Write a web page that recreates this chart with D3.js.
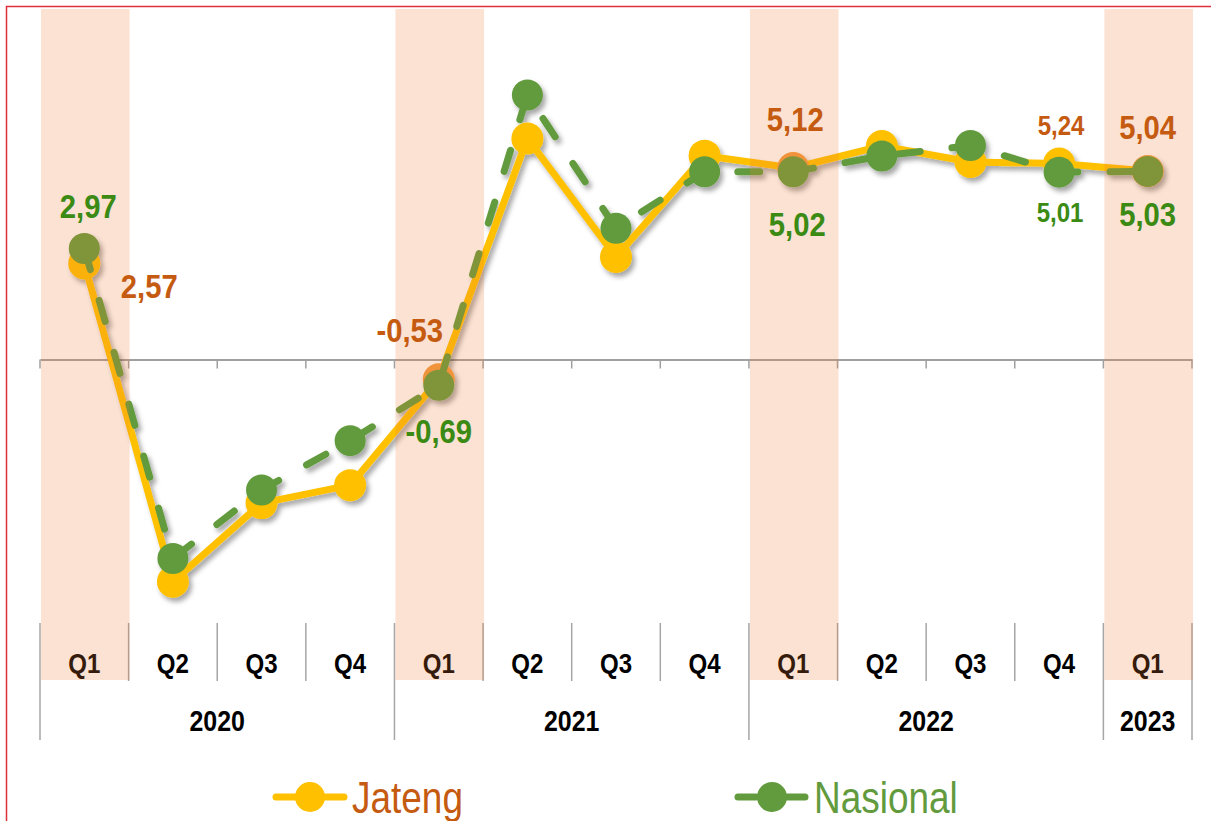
<!DOCTYPE html>
<html>
<head>
<meta charset="utf-8">
<script src="https://cdn.jsdelivr.net/npm/d3@7"></script>
<style>
  body { margin: 0; background: #fff; }
  svg { display: block; font-family: 'Liberation Sans', Arial, sans-serif; }
</style>
</head>
<body>
<div class="canvas"></div>
<script>
// data
const quarters = ['Q1', 'Q2', 'Q3', 'Q4', 'Q1', 'Q2', 'Q3', 'Q4', 'Q1', 'Q2', 'Q3', 'Q4', 'Q1'];
const years = ['2020', '2021', '2022', '2023'];
const quartersPerYear = [4, 4, 4, 1];
const jateng = [2.57, -5.94, -3.84, -3.36, -0.53, 5.91, 2.74, 5.45, 5.12, 5.71, 5.28, 5.24, 5.04];
const nasional = [2.97, -5.32, -3.49, -2.17, -0.69, 7.07, 3.51, 5.02, 5.02, 5.44, 5.72, 5.01, 5.03];
const highlighted = [0, 4, 8, 12]; // shaded Q1 columns

// which points get a value label, and where it sits
const jatengLabels = [
  { i: 0, dx: 65, dy: 35, size: 34 },
  { i: 4, dx: -29, dy: -37, size: 34 },
  { i: 8, dx: 2, dy: -37, size: 34 },
  { i: 11, dx: 2, dy: -29, size: 28 },
  { i: 12, dx: 0, dy: -32, size: 34 },
];
const nasionalLabels = [
  { i: 0, dx: 4, dy: -30, size: 34 },
  { i: 4, dx: 0, dy: 58, size: 34 },
  { i: 8, dx: 4, dy: 64, size: 34 },
  { i: 11, dx: 1, dy: 50, size: 28 },
  { i: 12, dx: 0, dy: 55, size: 34 },
];

const fmt = (v) => d3.format('.2f')(v).replace('.', ',').replace('\u2212', '-');

// condensed look: the narrow face is not installed, so squeeze the glyphs
const squeeze = 0.86;
const place = (sel, fx, fy) =>
  sel.attr('transform', (d, i) => `translate(${fx(d, i)}, ${fy(d, i)}) scale(${squeeze}, 1)`);

const width = 1211;
const height = 821;

const svg = d3
  .select('.canvas')
  .append('svg')
  .attr('width', width)
  .attr('height', height);

// shadow under the lines
const defs = svg.append('defs');
defs
  .append('filter')
  .attr('id', 'shadow')
  .attr('x', '-10%')
  .attr('y', '-10%')
  .attr('width', '120%')
  .attr('height', '120%')
  .append('feDropShadow')
  .attr('dx', 3)
  .attr('dy', 4)
  .attr('stdDeviation', 2.5)
  .attr('flood-color', '#000')
  .attr('flood-opacity', 0.35);

// frame
svg
  .append('rect')
  .attr('x', 6.5)
  .attr('y', 6.5)
  .attr('width', width + 20)
  .attr('height', height + 20)
  .attr('fill', 'none')
  .attr('stroke', '#E0303A')
  .attr('stroke-width', 1.5);

//scales
const keys = quarters.map((q, i) => i);
const x = d3.scaleBand().domain(keys).range([40, 1192]);
const y = d3.scaleLinear().domain([-8, 9]).range([658.7, 22.9]);
const cx = (i) => x(i) + x.bandwidth() / 2;
const edge = (k) => x.range()[0] + k * x.step();

//zero axis with tick marks at category edges
const zeroAxis = svg
  .append('g')
  .attr('transform', `translate(0, ${y(0)})`)
  .call(d3.axisBottom(x).tickSize(0).tickFormat(''));
zeroAxis.select('.domain').attr('stroke', '#A0A0A0').attr('stroke-width', 2);
zeroAxis.selectAll('.tick').remove();
zeroAxis
  .selectAll('line.edge')
  .data(d3.range(keys.length + 1))
  .enter()
  .append('line')
  .attr('class', 'edge')
  .attr('x1', edge)
  .attr('x2', edge)
  .attr('y1', 0)
  .attr('y2', 9)
  .attr('stroke', '#A0A0A0')
  .attr('stroke-width', 1.5);

//category labels below the plot
const cat = svg.append('g');
const yearStart = [];
quartersPerYear.reduce((acc, n) => {
  yearStart.push(acc);
  return acc + n;
}, 0);
const yearEdges = yearStart.concat([keys.length]);

cat
  .selectAll('line.q')
  .data(d3.range(keys.length + 1).filter((k) => !yearEdges.includes(k)))
  .enter()
  .append('line')
  .attr('x1', edge)
  .attr('x2', edge)
  .attr('y1', 623)
  .attr('y2', 681)
  .attr('stroke', '#A6A6A6')
  .attr('stroke-width', 1.5);

cat
  .selectAll('line.y')
  .data(yearEdges)
  .enter()
  .append('line')
  .attr('x1', edge)
  .attr('x2', edge)
  .attr('y1', 623)
  .attr('y2', 740)
  .attr('stroke', '#A6A6A6')
  .attr('stroke-width', 1.5);

cat
  .selectAll('text.q')
  .data(quarters)
  .enter()
  .append('text')
  .call(place, (d, i) => cx(i), () => 673)
  .attr('text-anchor', 'middle')
  .attr('font-size', 28)
  .attr('font-weight', 'bold')
  .attr('fill', '#000')
  .text((d) => d);

cat
  .selectAll('text.y')
  .data(years)
  .enter()
  .append('text')
  .call(place, (d, j) => edge(yearStart[j] + quartersPerYear[j] / 2), () => 731)
  .attr('text-anchor', 'middle')
  .attr('font-size', 29)
  .attr('font-weight', 'bold')
  .attr('fill', '#000')
  .text((d) => d);

//line path generator
const line = d3
  .line()
  .x((d, i) => cx(i))
  .y((d) => y(d));

const series = svg.append('g').attr('filter', 'url(#shadow)');

series
  .append('path')
  .datum(jateng)
  .attr('fill', 'none')
  .attr('stroke', '#FFC000')
  .attr('stroke-width', 7)
  .attr('stroke-linejoin', 'round')
  .attr('d', line);

series
  .selectAll('circle.j')
  .data(jateng)
  .enter()
  .append('circle')
  .attr('cx', (d, i) => cx(i))
  .attr('cy', (d) => y(d))
  .attr('r', 16)
  .attr('fill', (d, i) => (highlighted.includes(i) && i > 0 ? '#F29A3C' : '#FFC000'));

series
  .append('path')
  .datum(nasional)
  .attr('fill', 'none')
  .attr('stroke', '#629B3D')
  .attr('stroke-width', 7)
  .attr('stroke-linecap', 'round')
  .attr('stroke-dasharray', '22 32')
  .attr('d', line);

series
  .selectAll('circle.n')
  .data(nasional)
  .enter()
  .append('circle')
  .attr('cx', (d, i) => cx(i))
  .attr('cy', (d) => y(d))
  .attr('r', 15.5)
  .attr('fill', '#629B3D');

//shaded Q1 columns, laid over the lines
svg
  .selectAll('rect.band')
  .data(highlighted)
  .enter()
  .append('rect')
  .attr('x', (i) => x(i) + 1)
  .attr('y', 9)
  .attr('width', x.bandwidth())
  .attr('height', 671)
  .attr('fill', '#ED7D31')
  .attr('opacity', 0.22);

//value labels
const labels = svg.append('g').attr('font-weight', 'bold').attr('text-anchor', 'middle');

labels
  .selectAll('text.j')
  .data(jatengLabels)
  .enter()
  .append('text')
  .call(place, (d) => cx(d.i) + d.dx, (d) => y(jateng[d.i]) + d.dy)
  .attr('font-size', (d) => d.size)
  .attr('fill', '#C55A11')
  .text((d) => fmt(jateng[d.i]));

labels
  .selectAll('text.n')
  .data(nasionalLabels)
  .enter()
  .append('text')
  .call(place, (d) => cx(d.i) + d.dx, (d) => y(nasional[d.i]) + d.dy)
  .attr('font-size', (d) => d.size)
  .attr('fill', '#3A8A14')
  .text((d) => fmt(nasional[d.i]));

//legend
const legendItems = [
  { name: 'Jateng', color: '#FFC000', text: '#C55A11', x: 273, dash: false },
  { name: 'Nasional', color: '#629B3D', text: '#629B3D', x: 735, dash: true },
];

const legend = svg
  .selectAll('g.legend')
  .data(legendItems)
  .enter()
  .append('g')
  .attr('transform', (d) => `translate(${d.x}, 797)`);

legend.each(function (d) {
  const g = d3.select(this);
  const segs = d.dash ? [[3, 21], [52, 70]] : [[3, 71]];
  segs.forEach(([a, b]) => {
    g.append('line')
      .attr('x1', a)
      .attr('x2', b)
      .attr('stroke', d.color)
      .attr('stroke-width', 7)
      .attr('stroke-linecap', 'round');
  });
  g.append('circle').attr('cx', 37).attr('r', 15).attr('fill', d.color);
  g.append('text')
    .attr('transform', `translate(79, 16) scale(0.84, 1)`)
    .attr('font-size', 44)
    .attr('fill', d.text)
    .text(d.name);
});
</script>
</body>
</html>
